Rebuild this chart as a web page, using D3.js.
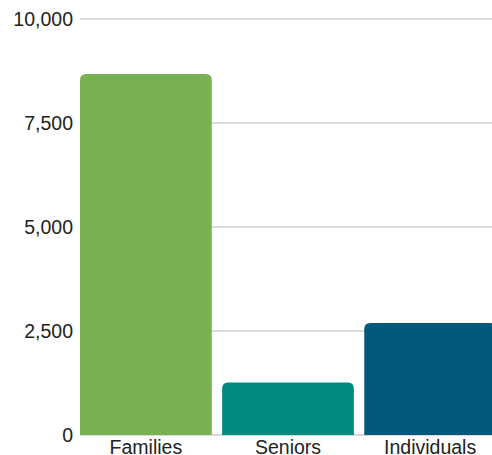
<!DOCTYPE html>
<html>
<head>
<meta charset="utf-8">
<script src="https://cdn.jsdelivr.net/npm/d3@7"></script>
<style>
	html, body { margin: 0; padding: 0; background: #fff; overflow: hidden; }
	svg { display: block; font-family: "Liberation Sans", Arial, sans-serif; }
</style>
</head>
<body>
<svg id="chart" width="492" height="455"></svg>
<script>

var categories = ['Families', 'Seniors', 'Individuals'];
var values = [8680, 1260, 2690];
var colors = ['#78b052', '#038a7e', '#03587c'];
var ticks = [0, 2500, 5000, 7500, 10000];

var drawChart = function (id) {

	var svg = d3.select(id);

	var x = d3.scaleBand()
		.domain(categories)
		.range([80, 496])
		.paddingInner(0.073)
		.paddingOuter(0);

	var y = d3.scaleLinear()
		.domain([0, 10000])
		.range([435, 19]);

	// grid lines
	svg.selectAll('line.grid')
		.data(ticks)
		.enter()
		.append('line')
		.attr('class', 'grid')
		.attr('x1', 80)
		.attr('x2', 492)
		.attr('y1', function (d) { return y(d); })
		.attr('y2', function (d) { return y(d); })
		.attr('stroke', '#cfcfcf')
		.attr('stroke-width', 1.5);

	// tick labels
	svg.selectAll('text.tick')
		.data(ticks)
		.enter()
		.append('text')
		.attr('class', 'tick')
		.attr('x', 73)
		.attr('y', function (d) { return y(d); })
		.attr('dy', '0.35em')
		.attr('text-anchor', 'end')
		.attr('font-size', 19.5)
		.attr('fill', '#222')
		.text(function (d) { return d3.format(',')(d); });

	// bars with rounded tops
	var rr = 6;
	var barPath = function (d, i) {
		var x0 = x(categories[i]);
		var x1 = x0 + x.bandwidth();
		var y0 = y(0);
		var y1 = y(d);
		return 'M' + x0 + ',' + y0 +
			'V' + (y1 + rr) +
			'Q' + x0 + ',' + y1 + ' ' + (x0 + rr) + ',' + y1 +
			'H' + (x1 - rr) +
			'Q' + x1 + ',' + y1 + ' ' + x1 + ',' + (y1 + rr) +
			'V' + y0 + 'Z';
	};

	svg.selectAll('path.bar')
		.data(values)
		.enter()
		.append('path')
		.attr('class', 'bar')
		.attr('d', barPath)
		.attr('fill', function (d, i) { return colors[i]; });

	// category labels
	svg.selectAll('text.cat')
		.data(categories)
		.enter()
		.append('text')
		.attr('class', 'cat')
		.attr('x', function (d) { return x(d) + x.bandwidth() / 2; })
		.attr('y', 454)
		.attr('text-anchor', 'middle')
		.attr('font-size', 19.5)
		.attr('fill', '#222')
		.text(function (d) { return d; });
}

window.onload = function () {
	drawChart('#chart');
}
</script>
</body>
</html>
